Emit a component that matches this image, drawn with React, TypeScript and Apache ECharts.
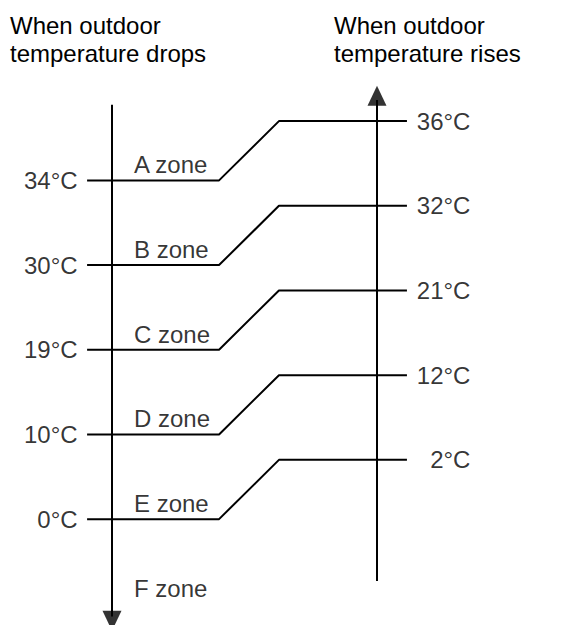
import React, { useEffect, useRef } from "react";
import * as echarts from "echarts";

// ---- data ----
const dropTemps = [34, 30, 19, 10, 0]; // thresholds when outdoor temperature drops
const riseTemps = [36, 32, 21, 12, 2]; // thresholds when outdoor temperature rises
const zones = ["A zone", "B zone", "C zone", "D zone", "E zone", "F zone"];
const titleDrop = "When outdoor\ntemperature drops";
const titleRise = "When outdoor\ntemperature rises";

// ---- layout (axis units: left axis x=0, right axis x=1; y = zone level) ----
const X_START = -0.094;
const X_BEND1 = 0.404;
const X_BEND2 = 0.63;
const X_END = 1.113;
const X_ZONE = 0.083;
const SHIFT = 0.7;
const FONT = "'Liberation Sans', Arial, Helvetica, sans-serif";

export default function App() {
  const ref = useRef<HTMLDivElement>(null);
  useEffect(() => {
    if (!ref.current) return;
    const chart = echarts.init(ref.current, undefined, { renderer: "svg" });
    const black = "#000";
    const txt = { color: black, fontSize: 24, fontFamily: FONT };

    const transitionSeries = dropTemps.map((_, i) => ({
      type: "line",
      silent: true,
      symbol: "none",
      lineStyle: { color: black, width: 2 },
      data: [
        [X_START, i],
        [X_BEND1, i],
        [X_BEND2, i - SHIFT],
        [X_END, i - SHIFT],
      ],
      z: 2,
    }));

    const option: any = {
      animation: false,
      backgroundColor: "#fff",
      title: [
        {
          text: titleDrop,
          left: 10,
          top: 11,
          padding: 0,
          textStyle: { ...txt, fontWeight: "normal", lineHeight: 28 },
        },
        {
          text: titleRise,
          left: 334,
          top: 11,
          padding: 0,
          textStyle: { ...txt, fontWeight: "normal", lineHeight: 28 },
        },
      ],
      grid: { left: 6, top: 11, width: 477, height: 616.25 },
      xAxis: { type: "value", min: -0.4, max: 1.4, show: false },
      yAxis: { type: "value", min: -2, max: 5.25, inverse: true, show: false },
      series: [
        // left axis (drop)
        {
          type: "line",
          silent: true,
          symbol: "none",
          lineStyle: { color: black, width: 2 },
          data: [
            [0, -0.894],
            [0, 5.15],
          ],
          clip: false,
        },
        // right axis (rise)
        {
          type: "line",
          silent: true,
          symbol: "none",
          lineStyle: { color: black, width: 2 },
          data: [
            [1, -0.95],
            [1, 4.73],
          ],
          clip: false,
        },
        ...transitionSeries,
        // arrows
        {
          type: "scatter",
          silent: true,
          symbol: "triangle",
          symbolSize: [19, 20],
          itemStyle: { color: black },
          data: [
            { value: [1, -1.0], symbolRotate: 0 },
            { value: [0, 5.2], symbolRotate: 180 },
          ],
          clip: false,
          z: 3,
        },
        // drop temperature labels
        {
          type: "scatter",
          silent: true,
          symbolSize: 1,
          itemStyle: { color: "transparent" },
          label: { show: true, position: "left", distance: 9, ...txt },
          data: dropTemps.map((t, i) => ({ value: [X_START, i], label: { formatter: `${t}°C` } })),
        },
        // rise temperature labels
        {
          type: "scatter",
          silent: true,
          symbolSize: 1,
          itemStyle: { color: "transparent" },
          label: { show: true, position: "right", distance: 63, align: "right", ...txt },
          data: riseTemps.map((t, i) => ({ value: [X_END, i - SHIFT], label: { formatter: `${t}°C` } })),
        },
        // zone labels
        {
          type: "scatter",
          silent: true,
          symbolSize: 1,
          itemStyle: { color: "transparent" },
          label: { show: true, position: "top", distance: 3, align: "left", ...txt },
          data: zones.map((z, i) => ({ value: [X_ZONE, i], label: { formatter: z } })),
          clip: false,
        },
      ],
    };
    chart.setOption(option);
    return () => chart.dispose();
  }, []);
  return (
    <div
      ref={ref}
      style={{ position: "absolute", left: 0, top: 0, width: 574, height: 625 }}
    />
  );
}
